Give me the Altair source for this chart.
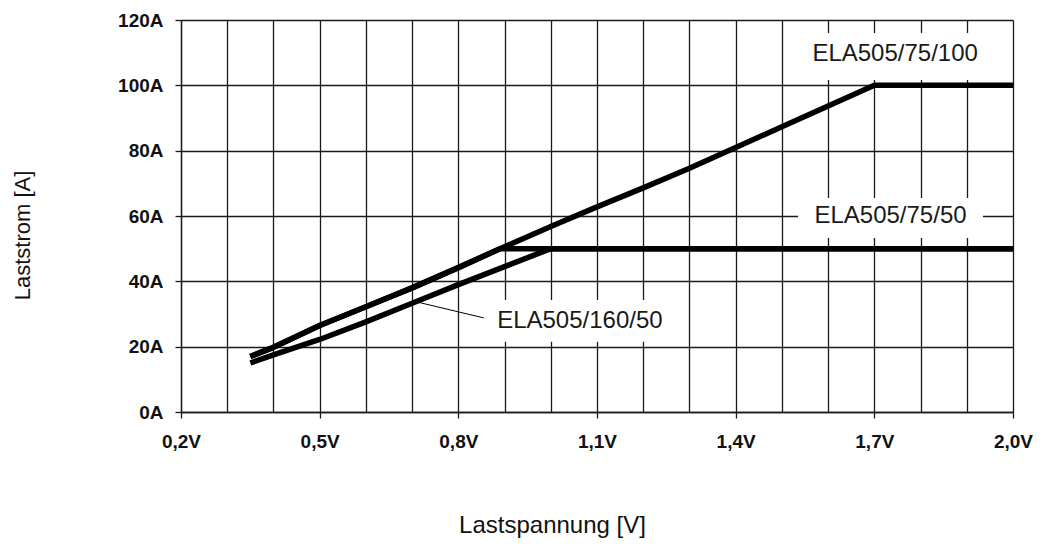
import altair as alt
import pandas as pd

# --- data ---
s100_x = [0.35, 0.4, 0.5, 0.6, 0.7, 0.8, 0.9, 1.0, 1.1, 1.2, 1.3, 1.4, 1.5, 1.6, 1.7, 2.0]
s100_y = [17.0, 19.8, 26.5, 32.2, 38.0, 44.2, 50.6, 56.8, 62.8, 68.6, 74.6, 81.0, 87.3, 93.7, 100.0, 100.0]

s75_x = [0.35, 0.4, 0.5, 0.6, 0.7, 0.8, 0.89, 2.0]
s75_y = [17.0, 19.8, 26.5, 32.2, 38.0, 44.2, 50.0, 50.0]

s160_x = [0.35, 0.4, 0.5, 0.6, 0.7, 0.8, 0.9, 1.0, 2.0]
s160_y = [15.0, 17.5, 22.2, 27.6, 33.3, 39.0, 44.5, 50.0, 50.0]

series_names = ["ELA505/75/100", "ELA505/75/50", "ELA505/160/50"]

label_text = ["ELA505/75/100", "ELA505/75/50", "ELA505/160/50"]
label_x = [1.745, 1.735, 1.063]
label_y = [109.5, 60.0, 27.8]
box_x1 = [1.54, 1.535, 0.85]
box_x2 = [1.96, 1.935, 1.28]
box_y1 = [101.6, 53.3, 21.5]
box_y2 = [116.0, 65.5, 34.3]

leader_x = [0.71, 0.855]
leader_y = [33.7, 28.8]

x_grid = [0.2, 0.3, 0.4, 0.5, 0.6, 0.7, 0.8, 0.9, 1.0, 1.1, 1.2, 1.3, 1.4, 1.5, 1.6, 1.7, 1.8, 1.9, 2.0]
y_ticks = [0, 20, 40, 60, 80, 100, 120]

# --- tables ---
rows = []
for name, xs, ys in zip(series_names, [s100_x, s75_x, s160_x], [s100_y, s75_y, s160_y]):
    for i, (a, b) in enumerate(zip(xs, ys)):
        rows.append({"serie": name, "V": a, "A": b, "o": i})
lines_df = pd.DataFrame(rows)

labels_df = pd.DataFrame({
    "text": label_text, "x": label_x, "y": label_y,
    "x1": box_x1, "x2": box_x2, "y1": box_y1, "y2": box_y2,
})
leader_df = pd.DataFrame({"x": leader_x, "y": leader_y})

FONT = "Liberation Sans"
xscale = alt.Scale(domain=[0.2, 2.0], nice=False, zero=False)
yscale = alt.Scale(domain=[0, 120], nice=False)

x_axis = alt.Axis(
    values=x_grid,
    labelExpr="round(datum.value*10) % 3 == 2 ? replace(format(datum.value, '.1f'), '.', ',') + 'V' : ''",
    grid=True, gridColor="#1a1a1a", gridWidth=1.3, gridOpacity=1,
    tickColor="#1a1a1a", tickSize=6, tickWidth=1.3,
    tickOpacity={"condition": {"test": "round(datum.value*10) % 3 == 2", "value": 1}, "value": 0},
    domainColor="#1a1a1a", domainWidth=1.3,
    labelFont=FONT, labelFontSize=19, labelFontWeight="bold", labelColor="#111",
    labelPadding=14, labelOverlap=False, labelFlush=False,
    title="Lastspannung [V]", titleFont=FONT, titleFontSize=24, titleFontWeight="normal",
    titleColor="#111", titleX=371, titleY=113, titleAlign="center", titleBaseline="middle",
)
y_axis = alt.Axis(
    values=y_ticks,
    labelExpr="datum.value + 'A'",
    grid=True, gridColor="#1a1a1a", gridWidth=1.3, gridOpacity=1,
    tickColor="#1a1a1a", tickSize=6, tickWidth=1.3,
    domainColor="#1a1a1a", domainWidth=1.3,
    labelFont=FONT, labelFontSize=19, labelFontWeight="bold", labelColor="#111",
    labelPadding=12, labelOverlap=False, labelFlush=False,
    title="Laststrom [A]", titleFont=FONT, titleFontSize=22, titleFontWeight="normal",
    titleColor="#111", titleX=-159, titleY=215, titleAngle=-90,
    titleAlign="center", titleBaseline="middle",
)

boxes = alt.Chart(labels_df).mark_rect(color="white").encode(
    x=alt.X("x1:Q", scale=xscale, axis=x_axis),
    x2="x2:Q",
    y=alt.Y("y1:Q", scale=yscale, axis=y_axis),
    y2="y2:Q",
)

lines = alt.Chart(lines_df).mark_line(color="black", strokeWidth=5.5, strokeJoin="round").encode(
    x=alt.X("V:Q", scale=xscale),
    y=alt.Y("A:Q", scale=yscale),
    detail="serie:N",
    order="o:Q",
)

texts = alt.Chart(labels_df).mark_text(
    font=FONT, fontSize=24, color="#1a1a1a", align="center", baseline="middle"
).encode(
    x=alt.X("x:Q", scale=xscale),
    y=alt.Y("y:Q", scale=yscale),
    text="text:N",
)

leader = alt.Chart(leader_df).mark_line(color="black", strokeWidth=1).encode(
    x=alt.X("x:Q", scale=xscale),
    y=alt.Y("y:Q", scale=yscale),
)

chart = alt.layer(boxes, lines, texts, leader).properties(
    width=832, height=392,
    autosize=alt.AutoSizeParams(type="none"),
    padding={"left": 173, "top": 12, "right": 25, "bottom": 135},
    background="white",
).configure_view(strokeWidth=0)

chart.save("out.html", embed_options={"renderer": "svg", "actions": False})
